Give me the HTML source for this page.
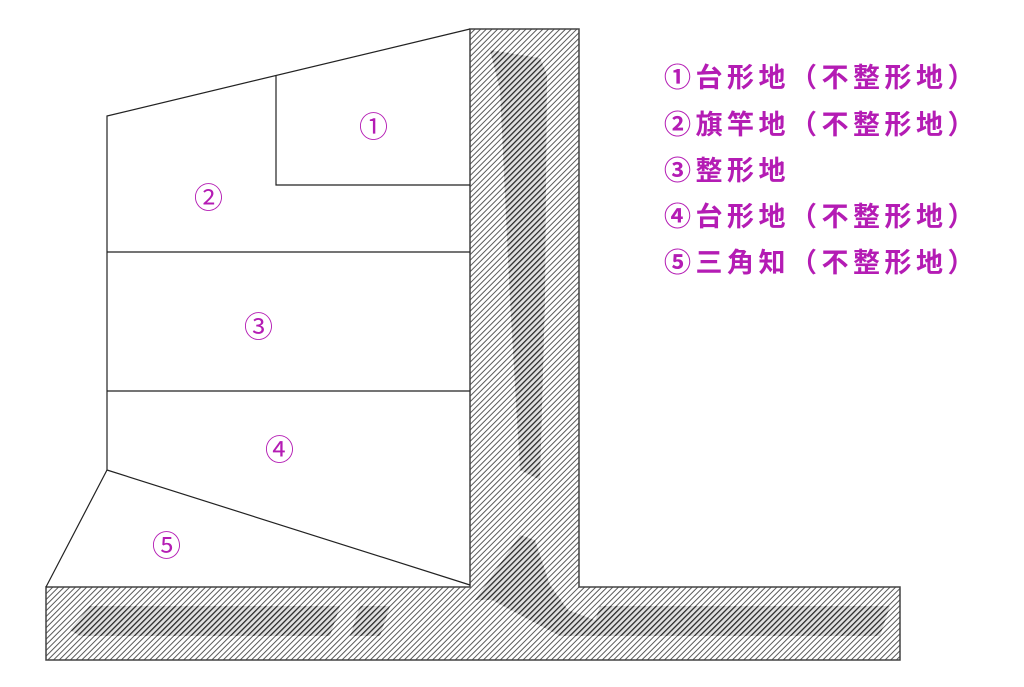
<!DOCTYPE html>
<html><head><meta charset="utf-8"><style>
html,body{margin:0;padding:0;background:#fff;width:1024px;height:687px;overflow:hidden}
svg{display:block}
.t{font-family:"Noto Sans CJK JP","Liberation Sans",sans-serif;fill:#b41cb4;font-size:27px;font-weight:bold;letter-spacing:4.5px}
.l{font-family:"Noto Sans CJK JP","Liberation Sans",sans-serif;fill:#b41cb4;font-size:29px}
</style></head><body>
<svg width="1024" height="687" viewBox="0 0 1024 687" xmlns="http://www.w3.org/2000/svg">
<defs>
<pattern id="h" patternUnits="userSpaceOnUse" width="4" height="4" patternTransform="rotate(45)">
<rect width="4" height="4" fill="#fff"/>
<line x1="0" y1="0" x2="0" y2="4" stroke="#5a5a5a" stroke-width="2"/>
</pattern>
<pattern id="d" patternUnits="userSpaceOnUse" width="4" height="4" patternTransform="rotate(45)">
<rect width="4" height="4" fill="#ddd"/>
<line x1="0" y1="0" x2="0" y2="4" stroke="#222" stroke-width="2.6"/>
</pattern>
</defs>
<path d="M470,29 H579 V587 H900 V660 H46 V587 H470 Z" fill="url(#h)" stroke="#444" stroke-width="1.5"/>
<g fill="url(#d)" opacity="0.9">
<path d="M490,50 L540,58 L547,75 L545,300 L540,480 L520,470 L510,300 L500,90 Z"/>
<path d="M520,535 L535,540 L550,585 L568,610 L600,622 L600,636 L560,636 L520,615 L492,600 L475,600 Z"/>
<path d="M70,630 L90,606 L340,606 L330,636 L80,636 Z"/>
<path d="M360,606 L390,606 L380,636 L350,636 Z"/>
<path d="M600,606 L890,606 L880,636 L590,636 Z"/>
</g>
<g stroke="#222" stroke-width="1.2" fill="none">
<polyline points="470,29 107,116 107,470 470,585"/>
<line x1="107" y1="470" x2="46" y2="587"/>
<polyline points="276,76 276,185 470,185"/>
<line x1="107" y1="252" x2="470" y2="252"/>
<line x1="107" y1="391" x2="470" y2="391"/>
</g>
<text class="l" x="359" y="137">①</text>
<text class="l" x="194" y="208">②</text>
<text class="l" x="244" y="337">③</text>
<text class="l" x="265" y="460">④</text>
<text class="l" x="152" y="556">⑤</text>
<text class="t" x="664" y="87">①台形地（不整形地）</text>
<text class="t" x="664" y="134">②旗竿地（不整形地）</text>
<text class="t" x="664" y="180">③整形地</text>
<text class="t" x="664" y="226">④台形地（不整形地）</text>
<text class="t" x="664" y="272">⑤三角知（不整形地）</text>
</svg>
</body></html>
